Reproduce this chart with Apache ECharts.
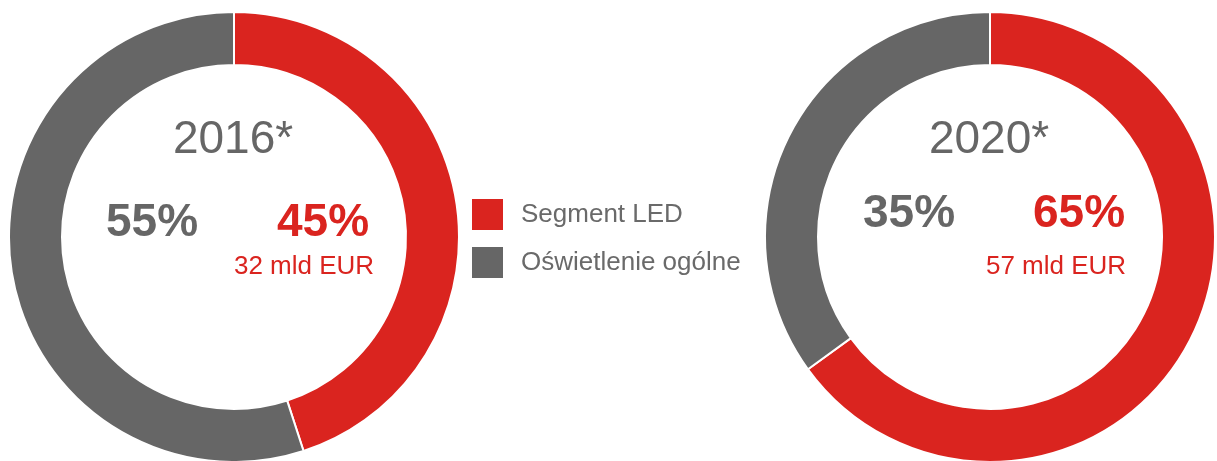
<!DOCTYPE html>
<html>
<head>
<meta charset="utf-8">
<script src="https://cdn.jsdelivr.net/npm/echarts@6/dist/echarts.min.js"></script>
<style>
  html, body { margin: 0; padding: 0; background: #fff; }
  #chart { width: 1217px; height: 461px; }
</style>
</head>
<body>
<div id="chart"></div>
<script>
// data
const categories = ["Segment LED", "Oświetlenie ogólne"];
const years = ["2016*", "2020*"];
const share2016 = [45, 55];
const share2020 = [65, 35];
const ledValue = ["32 mld EUR", "57 mld EUR"];

const colors = ["#da241f", "#666666"];
const font = "'Liberation Sans', Arial, sans-serif";

const myChart = echarts.init(document.getElementById("chart"));

const pie = (name, values, cx) => ({
  name: name,
  type: "pie",
  center: [cx, 237],
  radius: [172, 225],
  startAngle: 90,
  clockwise: true,
  silent: true,
  label: { show: false },
  labelLine: { show: false },
  itemStyle: { borderColor: "#fff", borderWidth: 2 },
  data: categories.map((c, i) => ({ name: c, value: values[i] })),
});

const txt = (text, x, y, size, weight, color) => ({
  type: "text",
  silent: true,
  style: {
    text: text,
    x: x,
    y: y,
    fill: color,
    font: weight + " " + size + "px " + font,
    textAlign: "center",
    textVerticalAlign: "middle",
  },
});

const option = {
  animation: false,
  color: colors,
  legend: {
    orient: "vertical",
    left: 472,
    top: 199,
    padding: 0,
    itemWidth: 31,
    itemHeight: 31,
    itemGap: 17,
    icon: "rect",
    selectedMode: false,
    itemStyle: { borderWidth: 0 },
    textStyle: {
      color: "#6a6a6a",
      fontSize: 26,
      fontFamily: font,
      padding: [0, 0, 0, 13],
    },
    data: categories,
  },
  series: [pie(years[0], share2016, 234), pie(years[1], share2020, 990)],
  graphic: [
    txt(years[0], 233, 140, 46, "normal", colors[1]),
    txt(share2016[1] + "%", 152, 223, 46, "bold", colors[1]),
    txt(share2016[0] + "%", 323, 223, 46, "bold", colors[0]),
    txt(ledValue[0], 304, 267, 26, "normal", colors[0]),
    txt(years[1], 989, 140, 46, "normal", colors[1]),
    txt(share2020[1] + "%", 909, 214, 46, "bold", colors[1]),
    txt(share2020[0] + "%", 1079, 214, 46, "bold", colors[0]),
    txt(ledValue[1], 1056, 267, 26, "normal", colors[0]),
  ],
};

myChart.setOption(option);
</script>
</body>
</html>
